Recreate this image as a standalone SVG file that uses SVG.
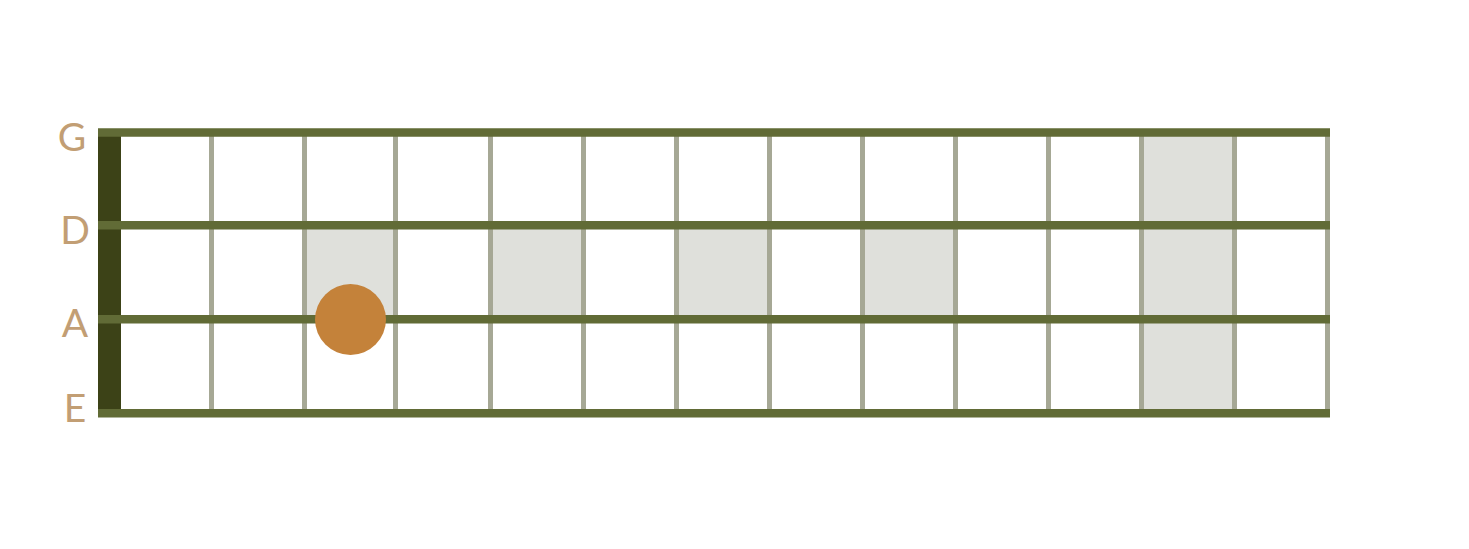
<svg xmlns="http://www.w3.org/2000/svg" width="1469" height="549" viewBox="0 0 1469 549">
<style>
.shade{fill:#dfe0db}
.fret{stroke:#a6a895;stroke-width:5}
.string{stroke:#616b36;stroke-width:8.5}
.lbl{font-family:"Lato","Liberation Sans",sans-serif;font-size:39px;fill:#c29e74;text-anchor:middle}
</style>
<rect width="1469" height="549" fill="#ffffff"/>
<g id="shading">
<rect class="shade" x="304.5" y="225" width="91" height="94"/>
<rect class="shade" x="490.5" y="221" width="93" height="98"/>
<rect class="shade" x="676.5" y="221" width="93" height="98"/>
<rect class="shade" x="862.5" y="221" width="93" height="98"/>
<rect class="shade" x="1141.5" y="132" width="93" height="281"/>
</g>
<g id="frets">
<line class="fret" x1="211.5" y1="130" x2="211.5" y2="415"/>
<line class="fret" x1="304.5" y1="130" x2="304.5" y2="415"/>
<line class="fret" x1="395.5" y1="130" x2="395.5" y2="415"/>
<line class="fret" x1="490.5" y1="130" x2="490.5" y2="415"/>
<line class="fret" x1="583.5" y1="130" x2="583.5" y2="415"/>
<line class="fret" x1="676.5" y1="130" x2="676.5" y2="415"/>
<line class="fret" x1="769.5" y1="130" x2="769.5" y2="415"/>
<line class="fret" x1="862.5" y1="130" x2="862.5" y2="415"/>
<line class="fret" x1="955.5" y1="130" x2="955.5" y2="415"/>
<line class="fret" x1="1048.5" y1="130" x2="1048.5" y2="415"/>
<line class="fret" x1="1141.5" y1="130" x2="1141.5" y2="415"/>
<line class="fret" x1="1234.5" y1="130" x2="1234.5" y2="415"/>
<line class="fret" x1="1327.5" y1="130" x2="1327.5" y2="415"/>
</g>
<g id="nut">
<rect x="98" y="130" width="23" height="285" fill="#3c4217"/>
</g>
<g id="strings">
<line class="string" x1="98" y1="132.5" x2="1330" y2="132.5"/>
<line class="string" x1="98" y1="225.3" x2="1330" y2="225.3"/>
<line class="string" x1="98" y1="319.3" x2="1330" y2="319.3"/>
<line class="string" x1="98" y1="413.3" x2="1330" y2="413.3"/>
</g>
<g id="dot">
<circle cx="350.5" cy="319.5" r="35.5" fill="#c4823a"/>
</g>
<g id="labels">
<text class="lbl" x="72" y="151">G</text>
<text class="lbl" x="75" y="244">D</text>
<text class="lbl" x="75" y="337">A</text>
<text class="lbl" x="75" y="422">E</text>
</g>
</svg>
